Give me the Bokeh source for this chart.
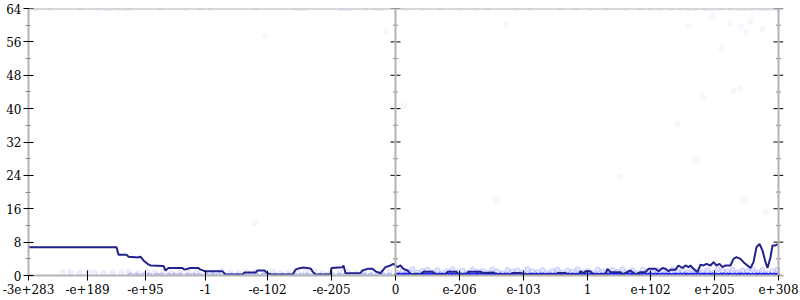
from bokeh.plotting import figure
from bokeh.models import FixedTicker, Span, Range1d
from bokeh.embed import file_html
from bokeh.resources import INLINE

# ---- axis ticks (x is an ordinal position across the float line) ----
x_tick_pos = [0, 59, 117, 177, 239, 303, 367, 431, 495, 559, 622, 686, 750]
x_tick_labels = ["-3e+283", "-e+189", "-e+95", "-1", "-e-102", "-e-205", "0",
                 "e-206", "e-103", "1", "e+102", "e+205", "e+308"]
y_ticks = [0, 8, 16, 24, 32, 40, 48, 56, 64]
y_minor = [4, 12, 20, 28, 36, 44, 52, 60]

# ---- average error line ----
line_x = [0, 88, 90, 98, 100, 107, 109, 112, 115, 119, 122, 135, 137, 140, 154, 156, 162, 170, 172, 177,
          194, 197, 214, 216, 227, 229, 236, 238, 242, 264, 267, 270, 275, 282, 284, 287, 302, 303, 314, 315,
          317, 332, 334, 339, 344, 347, 352, 357, 362, 365, 369, 372, 375, 379, 382, 392, 395, 404, 407, 417,
          419, 428, 430, 437, 440, 452, 455, 465, 468, 482, 484, 492, 497, 527, 529, 537, 539, 550, 552, 555,
          557, 562, 565, 577, 579, 582, 592, 594, 597, 602, 607, 612, 617, 620, 627, 630, 634, 637, 640, 642,
          647, 650, 654, 657, 660, 662, 665, 669, 672, 675, 678, 682, 685, 688, 691, 694, 697, 702, 705, 708,
          712, 715, 718, 722, 725, 728, 731, 734, 737, 739, 742, 744, 747, 750]
line_y = [6.8, 6.8, 5.0, 5.0, 4.5, 4.4, 4.3, 4.5, 3.6, 2.8, 2.4, 2.3, 1.2, 1.8, 1.8, 1.4, 1.8, 1.8, 1.4, 1.0,
          1.0, 0.25, 0.25, 0.7, 0.7, 1.2, 1.2, 0.7, 0.25, 0.25, 1.4, 1.7, 1.9, 1.7, 1.0, 0.25, 0.25, 1.8, 2.0, 2.4,
          0.55, 0.6, 1.2, 1.6, 1.6, 1.0, 0.55, 2.0, 2.4, 2.8, 2.0, 2.4, 1.6, 1.2, 0.4, 0.25, 0.9, 0.9, 0.25, 0.25,
          0.9, 0.9, 0.25, 0.25, 0.9, 0.9, 0.6, 0.7, 0.25, 0.25, 0.6, 0.6, 0.25, 0.25, 0.6, 0.6, 0.25, 0.25, 1.0, 0.55,
          1.0, 1.0, 0.25, 0.25, 1.6, 0.8, 0.8, 0.25, 0.6, 1.2, 0.25, 0.8, 0.8, 1.6, 1.6, 1.0, 1.8, 1.6, 1.0, 1.4,
          1.4, 2.4, 1.8, 2.4, 2.0, 2.4, 1.6, 0.8, 2.6, 2.4, 2.8, 2.4, 3.2, 2.4, 2.8, 2.0, 2.4, 2.4, 4.0, 4.4,
          4.0, 3.2, 2.6, 1.8, 3.2, 6.8, 7.6, 6.0, 3.2, 1.8, 4.4, 7.2, 7.2, 7.6]

# ---- sampled points ----
top_x = [7, 22, 52, 69, 77, 82, 90, 97, 102, 132, 157, 172, 182, 227, 267, 272, 277, 312, 317, 322,
         337, 347, 352, 377, 394, 412, 432, 447, 459, 487, 502, 532, 547, 562, 577, 597, 612, 622, 632,
         642, 652, 660, 667, 677, 684, 692, 702, 710, 717, 724, 732, 737, 742, 747, 749]
top_y = [64] * len(top_x)

scat_x = [237, 358, 478, 660, 684, 702, 712, 718, 722, 734, 693, 705, 712, 675, 649, 375, 667, 591,
          468, 716, 737, 226]
scat_y = [57.5, 58.5, 60.0, 59.7, 62.3, 60.4, 59.7, 58.2, 61.0, 59.0, 54.4, 44.3, 44.8, 42.7, 36.2,
          40.7, 27.8, 23.5, 18.0, 18.2, 15.3, 12.7]

zero_left_x = [102, 108, 115, 121, 128, 133, 140, 146, 152, 159, 165, 171, 178, 184, 190, 197, 203, 209,
               216, 222, 228, 235, 241, 247, 254, 260, 266, 273, 279, 285, 292, 298, 304, 311, 317, 323,
               330, 336, 342, 349, 355, 361]
zero_right_x = [368, 371, 375, 378, 382, 386, 389, 393, 396, 400, 404, 407, 411, 414, 418, 422, 425, 429,
                432, 436, 440, 443, 447, 450, 454, 458, 461, 465, 468, 472, 476, 479, 483, 486, 490, 494,
                497, 501, 504, 508, 512, 515, 519, 522, 526, 530, 533, 537, 540, 544, 548, 551, 555, 558,
                562, 566, 569, 573, 576, 580, 584, 587, 591, 594, 598, 602, 605, 609, 612, 616, 620, 623,
                627, 630, 634, 638, 641, 645, 648, 652, 656, 659, 663, 666, 670, 674, 677, 681, 684, 688,
                692, 695, 699, 702, 706, 710, 713, 717, 720, 724, 728, 731, 735, 738, 742, 746, 749]

band_left_x = [34, 42, 51, 60, 66, 75, 84, 93, 100, 110, 118, 126, 135, 143, 151, 160, 168, 177, 185,
               193, 202, 210, 218, 227, 235, 244, 252, 260, 269, 277, 286, 294, 302, 311, 319, 328, 336,
               344, 353, 361]
band_left_y = [0.7, 0.8, 0.6, 0.9, 0.7, 0.6, 0.8, 0.7, 0.9, 0.6, 0.8, 0.7, 1.0, 0.6, 0.8, 0.7, 0.9, 0.6,
               0.8, 1.1, 0.7, 0.6, 0.9, 0.8, 0.7, 1.0, 0.6, 0.8, 0.7, 0.9, 1.1, 0.6, 0.8, 0.7, 1.0, 0.6,
               0.8, 0.9, 0.7, 1.0]
band_right_x = [369, 374, 379, 384, 389, 394, 399, 404, 409, 414, 419, 424, 429, 434, 439, 444, 449, 454,
                459, 464, 469, 474, 479, 484, 489, 494, 499, 504, 509, 514, 519, 524, 529, 534, 539, 544,
                549, 554, 559, 564, 569, 574, 579, 584, 589, 594, 599, 604, 609, 614, 619, 624, 629, 634,
                639, 644, 649, 654, 659, 664, 669, 674, 679, 684, 689, 694, 699, 704, 709, 714, 719, 724,
                729, 734, 739, 744, 749]
band_right_y = [0.6, 1.2, 0.9, 1.5, 0.7, 1.1, 1.4, 0.8, 1.3, 0.6, 1.0, 1.5, 0.8, 1.2, 0.6, 1.4, 0.9, 1.1,
                0.7, 1.5, 1.0, 0.6, 1.3, 0.9, 1.2, 0.7, 1.5, 1.0, 0.8, 1.3, 0.6, 1.1, 1.4, 0.7, 1.2, 0.9,
                1.5, 0.8, 1.1, 0.6, 1.4, 1.0, 0.7, 1.3, 0.9, 1.5, 0.8, 1.2, 0.6, 1.4, 1.0, 0.7, 1.3, 1.1,
                0.6, 1.5, 0.9, 1.2, 0.7, 1.4, 1.0, 0.8, 1.3, 0.6, 1.5, 1.1, 0.9, 1.4, 0.7, 1.2, 1.0, 1.5,
                0.8, 1.3, 0.6, 1.1, 1.4]

FONT = "DejaVu Serif"
AXIS_GRAY = "#b3b3b3"
TICK_MINOR = "#888888"

x_end = x_tick_pos[-1]
p = figure(width=800, height=300, output_backend="svg", toolbar_location=None,
           x_range=Range1d(0, x_end + 5), y_range=Range1d(0, 64),
           min_border_left=28, min_border_right=17, min_border_top=8, min_border_bottom=25,
           background_fill_color="white", border_fill_color="white")
p.grid.visible = False
p.outline_line_color = None

def style_axis(ax):
    ax.axis_line_color = AXIS_GRAY
    ax.axis_line_width = 2
    ax.major_tick_line_color = "black"
    ax.major_tick_line_width = 1
    ax.major_tick_in = 5
    ax.major_tick_out = 5
    ax.minor_tick_line_color = TICK_MINOR
    ax.minor_tick_in = 2
    ax.minor_tick_out = 3
    ax.major_label_text_font = FONT
    ax.major_label_text_font_size = "12px"
    ax.major_label_text_color = "black"

xa = p.xaxis[0]
style_axis(xa)
xa.ticker = FixedTicker(ticks=x_tick_pos)
xa.major_label_overrides = {t: l for t, l in zip(x_tick_pos, x_tick_labels)}
xa.major_label_standoff = 3

ya = p.yaxis[0]
style_axis(ya)
ya.ticker = FixedTicker(ticks=y_ticks, minor_ticks=y_minor)
ya.major_label_standoff = 2

# top frame line
p.add_layout(Span(location=y_ticks[-1], dimension="width", line_color=AXIS_GRAY, line_width=2))

# vertical dividers at zero and at the right end, each with y ticks
zero_pos = x_tick_pos[x_tick_labels.index("0")]
for xv in (zero_pos, x_end):
    p.add_layout(Span(location=xv, dimension="height", line_color=AXIS_GRAY, line_width=2))
    p.segment(x0=[xv - 5] * len(y_ticks), x1=[xv + 5] * len(y_ticks), y0=y_ticks, y1=y_ticks,
              line_color="black", line_width=1)
    p.segment(x0=[xv - 2.5] * len(y_minor), x1=[xv + 2.5] * len(y_minor), y0=y_minor, y1=y_minor,
              line_color=TICK_MINOR, line_width=1)

PT = "#0000ff"
def pts(xs, ys, fa, la):
    p.scatter(xs, ys, size=5, fill_color=PT, fill_alpha=fa, line_color=PT, line_alpha=la)

pts(top_x, top_y, 0.03, 0.06)
pts(scat_x, scat_y, 0.02, 0.05)
pts(band_left_x, band_left_y, 0.05, 0.08)
pts(band_right_x, band_right_y, 0.1, 0.16)
pts(zero_left_x, [0] * len(zero_left_x), 0.1, 0.25)
pts(zero_right_x, [0] * len(zero_right_x), 0.7, 0.9)

p.line(line_x, line_y, line_color="#22228f", line_width=2)

open("out.html", "w").write(file_html(p, INLINE))
